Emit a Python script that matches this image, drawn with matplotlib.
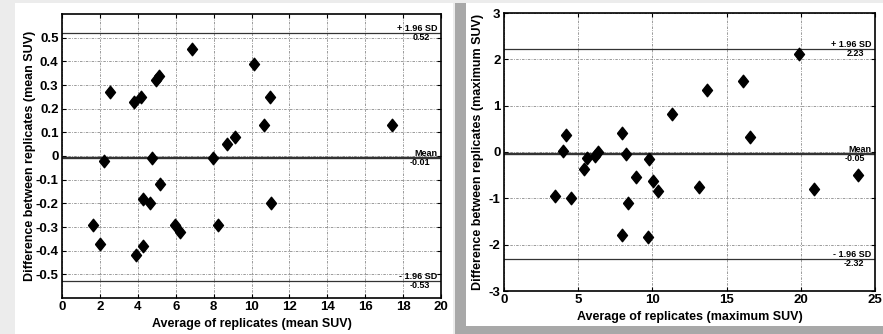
import numpy as np
import matplotlib
matplotlib.use("Agg")
import matplotlib.pyplot as plt
import matplotlib.patches as mpatches
import matplotlib.transforms as mtransforms

plt.rcParams.update({
    "font.family": ["Liberation Sans", "DejaVu Sans"],
    "font.weight": "bold",
    "font.size": 8,
    "axes.linewidth": 1.2,
})

# ── Data: mean SUV ───────────────────────────────────────────────
mean_avg = [2.23, 2.52, 3.78, 4.15, 4.75, 4.98, 5.12, 6.88, 7.95, 8.71, 9.11,
            10.11, 10.66, 10.99, 17.43,
            1.64, 2.02, 3.89, 4.26, 4.29, 4.64, 5.15, 5.96, 6.24, 8.21, 11.03]
mean_diff = [-0.02, 0.27, 0.23, 0.25, -0.01, 0.32, 0.34, 0.45, -0.01, 0.05, 0.08,
             0.39, 0.13, 0.25, 0.13,
             -0.29, -0.37, -0.42, -0.18, -0.38, -0.20, -0.12, -0.29, -0.32, -0.29, -0.20]
mean_lines = [0.52, -0.01, -0.53]

# ── Data: maximum SUV ────────────────────────────────────────────
max_avg = [3.46, 4.00, 4.20, 4.49, 5.37, 5.57, 6.13, 6.31, 7.93, 7.93, 8.22, 8.38,
           8.87, 9.73, 9.77, 10.04, 10.40, 11.34, 13.14, 13.70, 16.10, 16.55,
           19.86, 20.91, 23.88]
max_diff = [-0.94, 0.02, 0.36, -0.99, -0.36, -0.14, -0.08, -0.01, 0.40, -1.80, -0.05, -1.10,
            -0.54, -1.83, -0.16, -0.62, -0.85, 0.81, -0.75, 1.33, 1.54, 0.33,
            2.12, -0.79, -0.49]
max_lines = [2.23, -0.05, -2.32]

line_names = ["+ 1.96 SD", "Mean", "- 1.96 SD"]

# wide diamond marker
DIAMOND = [(-0.8, 0), (0, 1), (0.8, 0), (0, -1), (-0.8, 0)]


def draw_panel(ax, x, y, lines, xticks, yticks, ylim, xlabel, ylabel, ypad):
    ax.set_xlim(xticks[0], xticks[-1])
    ax.set_ylim(*ylim)
    ax.set_xticks(xticks)
    ax.set_yticks(yticks)
    ax.set_xticklabels([f"{t:g}" for t in xticks], fontsize=9.5)
    ax.set_yticklabels([f"{t + 0.0:g}" for t in yticks], fontsize=9.5)
    ax.grid(True, color="#8a8a8a", linestyle=(0, (3, 1.5, 1, 1.5)), linewidth=0.6)
    ax.tick_params(direction="in", length=3, top=True, right=True, width=0.8, pad=2.5)
    trans = mtransforms.blended_transform_factory(ax.transAxes, ax.transData)
    for i, (val, name) in enumerate(zip(lines, line_names)):
        lw = 1.7 if i == 1 else 0.9
        ax.axhline(val, color="#333333", linewidth=lw, zorder=2)
        ax.text(0.99, val, name, transform=trans, ha="right", va="bottom",
                fontsize=6.5, fontweight="bold")
        ax.text(0.972, val, f"{val:.2f}", transform=trans, ha="right", va="top",
                fontsize=6.5, fontweight="bold")
    ax.plot(x, y, linestyle="none", marker=DIAMOND, color="black", markersize=9, zorder=5)
    ax.set_xlabel(xlabel, fontsize=9, fontweight="bold", labelpad=3)
    ax.set_ylabel(ylabel, fontsize=9, fontweight="bold", labelpad=ypad)


fig = plt.figure(figsize=(8.83, 3.34), dpi=100)
fig.patch.set_facecolor("#ececec")

# panel backgrounds
W, H = 883.0, 334.0
for rect, col in [((15, 0, 438, 331), "white"),
                  ((455, 0, 428, 331), "#a8a8a8"),
                  ((466, 8, 417, 323), "white")]:
    fig.patches.append(mpatches.Rectangle((rect[0] / W, rect[1] / H), rect[2] / W, rect[3] / H,
                                          transform=fig.transFigure, facecolor=col,
                                          edgecolor="none", zorder=-10))

ax1 = fig.add_axes([62 / W, 1 - 298 / H, 379 / W, 284 / H])
ax2 = fig.add_axes([504 / W, 1 - 291 / H, 371 / W, 278 / H])

draw_panel(ax1, mean_avg, mean_diff, mean_lines,
           list(range(0, 21, 2)), [round(v, 1) for v in np.arange(-0.5, 0.51, 0.1)], (-0.6, 0.6),
           "Average of replicates (mean SUV)", "Difference between replicates (mean SUV)", 0)
draw_panel(ax2, max_avg, max_diff, max_lines,
           list(range(0, 26, 5)), list(range(-3, 4)), (-3, 3),
           "Average of replicates (maximum SUV)", "Difference between replicates (maximum SUV)", 3)

fig.savefig("out.png", dpi=100, facecolor=fig.get_facecolor())
